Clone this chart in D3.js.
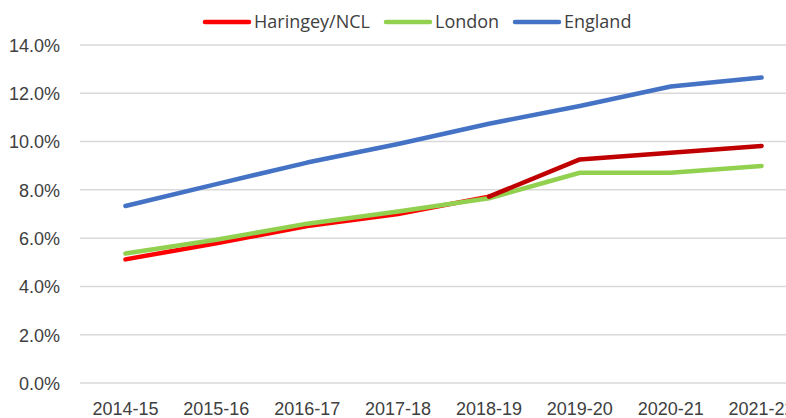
<!DOCTYPE html>
<html>
<head>
<meta charset="utf-8">
<script src="https://cdn.jsdelivr.net/npm/d3@7"></script>
<style>
  body { margin: 0; background: #fff; }
  svg { display: block; font-family: "Open Sans", "Noto Sans", sans-serif; }
</style>
</head>
<body>
<svg width="786" height="418"></svg>
<script>
(function() {

var years = ["2014-15", "2015-16", "2016-17", "2017-18", "2018-19", "2019-20", "2020-21", "2021-22"];
var haringey = [5.12, 5.79, 6.5, 7.0, 7.72, 9.26, 9.54, 9.82];
var london = [5.36, 5.93, 6.6, 7.1, 7.65, 8.71, 8.71, 8.99];
var england = [7.33, 8.24, 9.13, 9.9, 10.74, 11.47, 12.28, 12.65];
var yTicks = [0, 2, 4, 6, 8, 10, 12, 14];

var svg = d3.select("svg");

var x = d3.scaleBand().domain(years).range([80, 807]);
var y = d3.scaleLinear().domain([0, 14]).range([383, 45]);

var grid = svg.append("g");
grid.selectAll("line")
    .data(yTicks)
    .enter()
    .append("line")
    .attr("x1", 80).attr("x2", 807)
    .attr("y1", function(d) { return y(d); })
    .attr("y2", function(d) { return y(d); })
    .attr("stroke", "#d9d9d9")
    .attr("stroke-width", 1.5);

var yAxis = svg.append("g")
    .attr("transform", "translate(63,0)")
    .call(d3.axisLeft(y).tickValues(yTicks).tickSize(0).tickFormat(function(d) { return d.toFixed(1) + "%"; }));
yAxis.select(".domain").remove();
yAxis.selectAll("text").attr("fill", "#404040").style("font-size", "18px").attr("dy", "0.35em");

var xAxis = svg.append("g")
    .attr("transform", "translate(0,406)")
    .call(d3.axisBottom(x).tickSize(0));
xAxis.select(".domain").remove();
xAxis.selectAll("text").attr("fill", "#404040").style("font-size", "18px").attr("y", 3).attr("dy", "0.35em");

var line = d3.line()
    .x(function(d) { return x(d[0]) + x.bandwidth() / 2; })
    .y(function(d) { return y(d[1]); });

function pairs(vals, from, to) {
    return years.map(function(yr, i) { return [yr, vals[i]]; }).slice(from, to);
}

function drawLine(data, color) {
    svg.append("path")
        .datum(data)
        .attr("d", line)
        .attr("fill", "none")
        .attr("stroke", color)
        .attr("stroke-width", 4.5)
        .attr("stroke-linecap", "round")
        .attr("stroke-linejoin", "round");
}

// Haringey up to 2018-19 sits under London, NCL after that sits on top
drawLine(pairs(haringey, 0, 5), "#ff0000");
drawLine(pairs(london, 0, 8), "#92d050");
drawLine(pairs(haringey, 4, 8), "#c00000");
drawLine(pairs(england, 0, 8), "#4472c4");

var legendItems = [
    {name: "Haringey/NCL", color: "#ff0000", x: 205},
    {name: "London", color: "#92d050", x: 386},
    {name: "England", color: "#4472c4", x: 515}
];

var legend = svg.append("g").selectAll("g")
    .data(legendItems)
    .enter()
    .append("g")
    .attr("transform", function(d) { return "translate(" + d.x + ",22)"; });

legend.append("line")
    .attr("x1", 0).attr("x2", 44)
    .attr("stroke", function(d) { return d.color; })
    .attr("stroke-width", 4.5)
    .attr("stroke-linecap", "round");

legend.append("text")
    .attr("x", 49)
    .attr("dy", "0.35em")
    .attr("fill", "#404040")
    .style("font-size", "18px")
    .text(function(d) { return d.name; });

})();
</script>
</body>
</html>
